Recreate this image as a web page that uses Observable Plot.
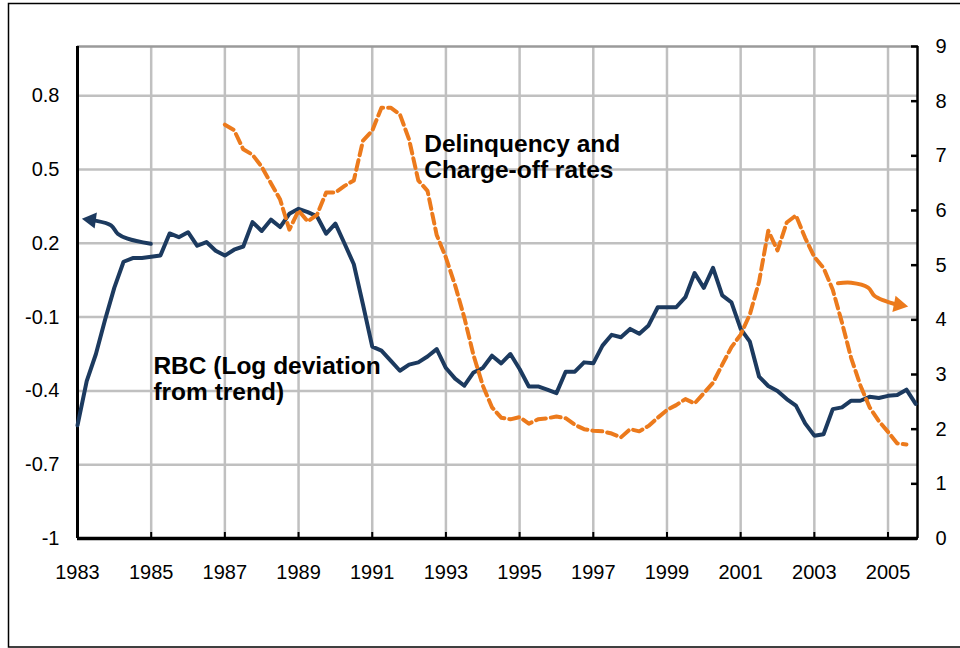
<!DOCTYPE html>
<html>
<head>
<meta charset="utf-8">
<script src="https://cdn.jsdelivr.net/npm/d3@7"></script>
<script src="https://cdn.jsdelivr.net/npm/@observablehq/plot@0.6"></script>
<style>
  body { margin: 0; background: #fff; }
  svg { display: block; }
</style>
</head>
<body>
<div id="chart"></div>
<script>
// ---- Data (quarterly) ----
const rbcStartYear = 1983;
const rbcValues = [
  -0.54, -0.36, -0.25, -0.11,      // 1983
  0.02, 0.125, 0.14, 0.14,         // 1984
  0.145, 0.15, 0.24, 0.225,        // 1985
  0.245, 0.19, 0.205, 0.17,        // 1986
  0.15, 0.174, 0.187, 0.286,       // 1987
  0.25, 0.296, 0.266, 0.32,        // 1988
  0.34, 0.327, 0.31, 0.239,        // 1989
  0.28, 0.198, 0.115, -0.05,       // 1990
  -0.22, -0.236, -0.277, -0.318,   // 1991
  -0.293, -0.284, -0.26, -0.23,    // 1992
  -0.307, -0.35, -0.379, -0.325,   // 1993
  -0.307, -0.257, -0.288, -0.25,   // 1994
  -0.311, -0.382, -0.382, -0.395,  // 1995
  -0.409, -0.322, -0.322, -0.284,  // 1996
  -0.288, -0.216, -0.172, -0.182,  // 1997
  -0.148, -0.168, -0.134, -0.06,   // 1998
  -0.06, -0.06, -0.019, 0.079,     // 1999
  0.019, 0.1, -0.012, -0.04,       // 2000
  -0.148, -0.2, -0.342, -0.38,     // 2001
  -0.4, -0.433, -0.46, -0.532,     // 2002
  -0.582, -0.576, -0.474, -0.467,  // 2003
  -0.44, -0.44, -0.424, -0.429,    // 2004
  -0.42, -0.417, -0.395, -0.453    // 2005
];

const delqStartYear = 1987;
const delqValues = [
  7.57, 7.47, 7.12, 7.02,   // 1987
  6.8, 6.5, 6.2, 5.65,      // 1988
  6.0, 5.8, 5.92, 6.33,     // 1989
  6.33, 6.45, 6.55, 7.28,   // 1990
  7.46, 7.88, 7.88, 7.76,   // 1991
  7.3, 6.55, 6.36, 5.55,    // 1992
  5.14, 4.63, 4.04, 3.35,   // 1993
  2.8, 2.4, 2.21, 2.18,     // 1994
  2.22, 2.1, 2.18, 2.2,     // 1995
  2.23, 2.2, 2.08, 2.0,     // 1996
  1.97, 1.96, 1.92, 1.85,   // 1997
  2.0, 1.96, 2.06, 2.21,    // 1998
  2.35, 2.44, 2.55, 2.47,   // 1999
  2.66, 2.85, 3.18, 3.5,    // 2000
  3.73, 4.1, 4.7, 5.63,     // 2001
  5.27, 5.78, 5.91, 5.5,    // 2002
  5.15, 4.95, 4.55, 3.95,   // 2003
  3.3, 2.8, 2.4, 2.15,      // 2004
  1.95, 1.74, 1.72          // 2005
];

// ---- Axes / ticks ----
const xDomain = [1983, 2005.8];
const xTicks = [1983, 1985, 1987, 1989, 1991, 1993, 1995, 1997, 1999, 2001, 2003, 2005];
const xTickLabels = ["1983", "1985", "1987", "1989", "1991", "1993", "1995", "1997", "1999", "2001", "2003", "2005"];
const leftDomain = [-1, 1];
const leftTicks = [-1, -0.7, -0.4, -0.1, 0.2, 0.5, 0.8];
const leftTickLabels = ["-1", "-0.7", "-0.4", "-0.1", "0.2", "0.5", "0.8"];
const rightDomain = [0, 9];
const rightTicks = [0, 1, 2, 3, 4, 5, 6, 7, 8, 9];
const rightTickLabels = ["0", "1", "2", "3", "4", "5", "6", "7", "8", "9"];

// ---- Annotations (data units) ----
const rbcLabel = "RBC (Log deviation\nfrom trend)";
const rbcLabelAt = {x: 1985.06, y: -0.254};            // left-axis units
const delqLabel = "Delinquency and\nCharge-off rates";
const delqLabelAt = {x: 1992.41, y: 7.42};             // right-axis units
const rbcArrowX = [1984.99, 1984.36, 1984.09, 1983.91, 1983.46, 1983.37];
const rbcArrowY = [0.198, 0.219, 0.239, 0.273, 0.293, 0.295];   // left units
const delqArrowX = [2003.64, 2004.0, 2004.46, 2004.63, 2004.9, 2005.18, 2005.29];
const delqArrowY = [4.67, 4.68, 4.59, 4.44, 4.35, 4.29, 4.276]; // right units

// ---- Helpers ----
const toLeft = v => leftDomain[0] + (v - rightDomain[0]) * (leftDomain[1] - leftDomain[0]) / (rightDomain[1] - rightDomain[0]);
const fromLeft = y => Math.round(rightDomain[0] + (y - leftDomain[0]) * (rightDomain[1] - rightDomain[0]) / (leftDomain[1] - leftDomain[0]));

const rbc = rbcValues.map((v, i) => ({date: rbcStartYear + i / 4, value: v}));
const delq = delqValues.map((v, i) => ({date: delqStartYear + i / 4, value: toLeft(v)}));
const rbcArrow = rbcArrowX.map((x, i) => ({x, y: rbcArrowY[i]}));
const delqArrow = delqArrowX.map((x, i) => ({x, y: toLeft(delqArrowY[i])}));

const NAVY = "#1c3a5f";
const ORANGE = "#ec7a1c";
const GRID = "#c0c0c0";

const chart = Plot.plot({
  width: 960,
  height: 648,
  marginLeft: 77,
  marginRight: 43,
  marginTop: 46,
  marginBottom: 110,
  style: {fontFamily: "'Liberation Sans', Arial, sans-serif", fontSize: "20px", color: "black", background: "white"},
  x: {domain: xDomain},
  y: {domain: leftDomain},
  marks: [
    Plot.frame({insetLeft: -69, insetTop: -43, insetRight: -80, insetBottom: -108.5, stroke: "black", strokeWidth: 1.5}),
    Plot.gridX(xTicks.slice(1), {stroke: GRID, strokeOpacity: 1, strokeWidth: 2.5}),
    Plot.gridY(leftTicks.slice(1), {stroke: GRID, strokeOpacity: 1, strokeWidth: 2.5}),
    Plot.ruleY([leftDomain[1]], {stroke: "#9a9a9a", strokeWidth: 2.5}),
    // axes text
    Plot.axisY(leftTicks, {anchor: "left", tickSize: 0, tickPadding: 18, label: null,
      tickFormat: d => leftTickLabels[leftTicks.indexOf(d)]}),
    Plot.axisY(rightTicks.map(toLeft), {anchor: "right", tickSize: -7, tickPadding: 25, strokeWidth: 2.5, label: null,
      tickFormat: d => rightTickLabels[fromLeft(d)]}),
    Plot.axisX(xTicks, {anchor: "bottom", tickSize: 0, tickPadding: 26, label: null,
      tickFormat: d => xTickLabels[xTicks.indexOf(d)]}),
    Plot.axisX(xTicks, {anchor: "bottom", tickSize: -6, strokeWidth: 2, label: null, tickFormat: () => ""}),
    // axis lines
    Plot.ruleX([xDomain[0]], {stroke: "black", strokeWidth: 3}),
    Plot.ruleX([xDomain[1]], {stroke: "black", strokeWidth: 2.5}),
    Plot.ruleY([leftDomain[0]], {stroke: "black", strokeWidth: 3.5}),
    // series
    Plot.line(rbc, {x: "date", y: "value", stroke: NAVY, strokeWidth: 4, strokeLinejoin: "round"}),
    Plot.line(delq, {x: "date", y: "value", stroke: ORANGE, strokeWidth: 4, strokeDasharray: "10,5"}),
    // arrows
    Plot.line(rbcArrow, {x: "x", y: "y", stroke: NAVY, strokeWidth: 4, curve: "catmull-rom"}),
    Plot.dot(rbcArrow.slice(-1), {x: "x", y: "y", symbol: "triangle", r: 6, fill: NAVY, stroke: "none", rotate: -82}),
    Plot.line(delqArrow, {x: "x", y: "y", stroke: ORANGE, strokeWidth: 4, curve: "catmull-rom"}),
    Plot.dot(delqArrow.slice(-1), {x: "x", y: "y", symbol: "triangle", r: 6.2, fill: ORANGE, stroke: "none", rotate: 101}),
    // labels
    Plot.text([rbcLabel], {x: rbcLabelAt.x, y: rbcLabelAt.y, text: d => d, textAnchor: "start", lineAnchor: "top",
      fontSize: 24.5, fontWeight: "bold", lineHeight: 1.086, fill: "black"}),
    Plot.text([delqLabel], {x: delqLabelAt.x, y: toLeft(delqLabelAt.y), text: d => d, textAnchor: "start", lineAnchor: "top",
      fontSize: 24.5, fontWeight: "bold", lineHeight: 1.086, fill: "black"})
  ]
});

document.getElementById("chart").appendChild(chart);
</script>
</body>
</html>
